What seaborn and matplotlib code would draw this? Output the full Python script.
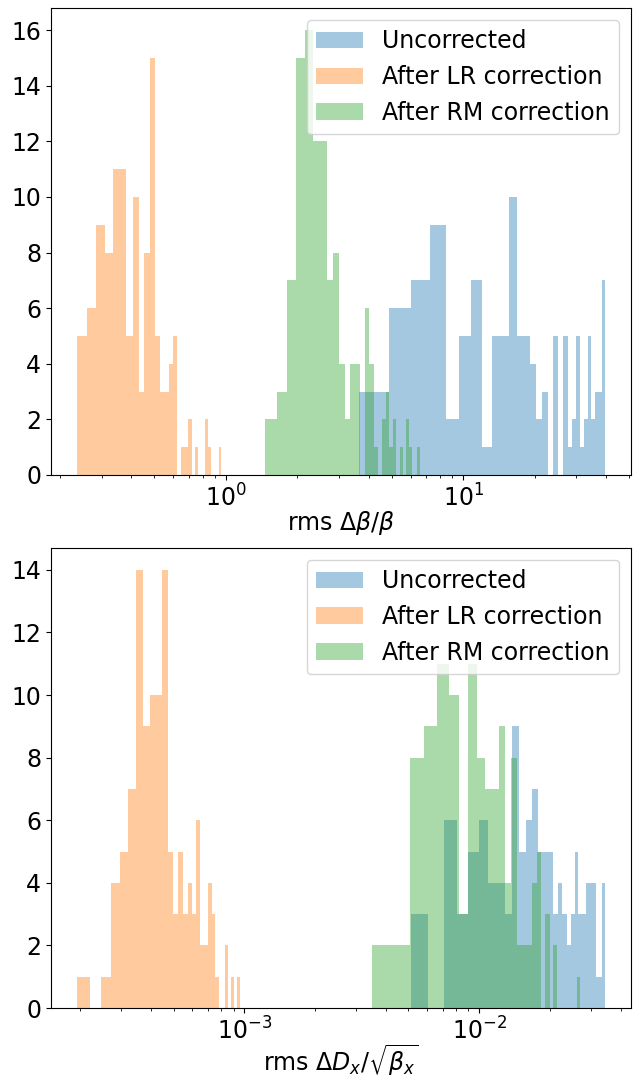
import numpy as np
import pandas as pd
import matplotlib
matplotlib.use("Agg")
import matplotlib.pyplot as plt
import seaborn as sns

labels = ["Uncorrected", "After LR correction", "After RM correction"]
colors = ["tab:blue", "tab:orange", "tab:green"]

# rms dbeta/beta: sample (min, max) and counts in 30 equal-width bins
beta_unc_range = (3.651, 39.48)
beta_unc_counts = [3, 6, 7, 9, 2, 5, 7, 1, 5, 5, 10, 5, 5, 4, 2, 3, 0, 5, 0, 5,
                   1, 2, 5, 1, 2, 5, 2, 3, 3, 7]
beta_lr_range = (0.2366, 0.958)
beta_lr_counts = [5, 6, 9, 8, 11, 11, 5, 10, 3, 8, 15, 5, 3, 3, 4, 5, 0, 1, 1, 2,
                  0, 1, 0, 0, 2, 1, 0, 0, 0, 1]
beta_rm_range = (1.465, 6.589)
beta_rm_counts = [2, 3, 7, 15, 16, 12, 12, 7, 8, 4, 2, 4, 4, 0, 6, 4, 1, 0, 2, 3,
                  1, 2, 0, 1, 0, 2, 1, 0, 0, 1]

# rms dDx/sqrt(beta_x)
disp_unc_range = (5.115e-3, 3.423e-2)
disp_unc_counts = [3, 0, 6, 3, 5, 6, 4, 4, 3, 9, 5, 6, 7, 5, 5, 5, 3, 4, 3, 2,
                   3, 5, 3, 3, 4, 4, 4, 1, 1, 4]
disp_lr_range = (1.948e-4, 9.55e-4)
disp_lr_counts = [1, 0, 1, 4, 5, 7, 14, 9, 10, 10, 14, 5, 3, 5, 3, 4, 3, 6, 2, 2,
                  4, 3, 1, 0, 0, 2, 0, 1, 0, 1]
disp_rm_range = (3.501e-3, 2.698e-2)
disp_rm_counts = [2, 2, 8, 9, 11, 10, 3, 11, 8, 7, 7, 9, 4, 8, 2, 2, 2, 4, 5, 0,
                  3, 0, 2, 0, 0, 0, 0, 0, 0, 1]

plt.rcParams["font.size"] = 17


def draw_hist(ax, rng, counts, color, label):
    # linear bins like plt.hist(bins=30), shown on a log axis
    edges = np.linspace(rng[0], rng[1], len(counts) + 1)
    df = pd.DataFrame({"v": 0.5 * (edges[:-1] + edges[1:]), "n": counts})
    sns.histplot(data=df, x="v", weights="n", bins=np.log10(edges).tolist(),
                 log_scale=True, ax=ax, color=color, alpha=0.4, linewidth=0,
                 label=label)


fig = plt.figure(figsize=(6.33, 10.78), dpi=100)
ax1 = fig.add_axes([0.0806, 0.5594, 0.9163, 0.4332])
ax2 = fig.add_axes([0.0806, 0.0649, 0.9163, 0.4268])

panels = [
    (ax1, [beta_unc_range, beta_lr_range, beta_rm_range],
     [beta_unc_counts, beta_lr_counts, beta_rm_counts], r"rms $\Delta\beta/\beta$"),
    (ax2, [disp_unc_range, disp_lr_range, disp_rm_range],
     [disp_unc_counts, disp_lr_counts, disp_rm_counts], r"rms $\Delta D_x/\sqrt{\beta_x}$"),
]

for ax, ranges, counts, xlabel in panels:
    for rng, c, color, label in zip(ranges, counts, colors, labels):
        draw_hist(ax, rng, c, color, label)
    ax.set_xlabel(xlabel, labelpad=-2)
    ax.set_ylabel("")
    ax.legend(loc="upper right")

fig.savefig("out.png", dpi=100)
